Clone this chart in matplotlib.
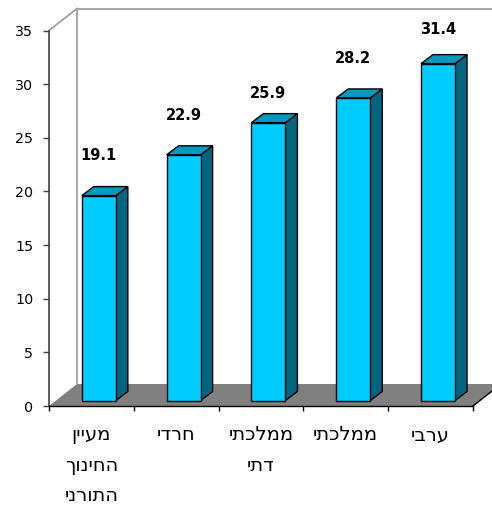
import matplotlib
matplotlib.use('Agg')
import matplotlib.pyplot as plt
import numpy as np
from matplotlib.patches import Polygon

# --- data ---
categories = ['מעיין\nהחינוך\nהתורני', 'חרדי', 'ממלכתי\nדתי', 'ממלכתי', 'ערבי']
values = [19.1, 22.9, 25.9, 28.2, 31.4]
y_ticks = [0, 5, 10, 15, 20, 25, 30, 35]
label_raise = [40, 39, 29, 39, 34]  # px above the bar top, not regular in the original

# --- fake 3d depth, in px ---
W, H = 492, 512
left, right, top, bottom = 49, 473, 30.5, 406
px_x = (right - left) / len(values)
px_y = (bottom - top) / 35
depth_x = 28 / px_x
depth_y = 22 / px_y
bar_w = 34 / px_x
front_x, front_y = 7 / px_x, 5.5 / px_y
side_x, side_y = 12 / px_x, 9 / px_y


def visual(s):
    # matplotlib has no bidi, flip each line so hebrew reads right to left
    return '\n'.join(line[::-1] for line in s.split('\n'))


fig = plt.figure(figsize=(W / 100, H / 100), dpi=100)
ax = fig.add_axes([left / W, 1 - bottom / H, (right - left) / W, (bottom - top) / H])
ax.set_xlim(0, len(values))
ax.set_ylim(0, 35)
ax.patch.set_visible(False)

# walls and floor
wall = '#a0a0a0'
n = len(values)
ax.add_patch(Polygon([(0, 0), (depth_x, depth_y), (n + depth_x, depth_y), (n, 0)],
                     facecolor='#808080', edgecolor='none', clip_on=False, zorder=1))
ax.plot([0, depth_x, depth_x], [35, 35 + depth_y, depth_y], color=wall, lw=1.3,
        clip_on=False, zorder=1)
ax.plot([depth_x, n + depth_x], [35 + depth_y, 35 + depth_y], color=wall, lw=1.3,
        clip_on=False, zorder=1)
ax.plot([n, n + depth_x], [0, depth_y], color='black', lw=1, clip_on=False, zorder=1)

# bars
x = np.arange(n) + 0.5 + front_x + 0.005
ax.bar(x, values, width=bar_w, bottom=front_y, color='#00ccff', edgecolor='black',
       linewidth=1, zorder=4, clip_on=False)
for xi, v, up in zip(x, values, label_raise):
    x0, x1 = xi - bar_w / 2, xi + bar_w / 2
    y0, y1 = front_y, front_y + v
    ax.add_patch(Polygon([(x1, y0), (x1 + side_x, y0 + side_y), (x1 + side_x, y1 + side_y), (x1, y1)],
                         facecolor='#006680', edgecolor='black', lw=1, zorder=3, clip_on=False))
    ax.add_patch(Polygon([(x0, y1), (x0 + side_x, y1 + side_y), (x1 + side_x, y1 + side_y), (x1, y1)],
                         facecolor='#0099bf', edgecolor='black', lw=1, zorder=3, clip_on=False))
    ax.annotate(f'{v:.1f}', (xi, y1), xytext=(0, up * 0.72), textcoords='offset points',
                ha='center', va='center', fontsize=10.5, fontweight='bold', color='black')

# axes
for side in ['top', 'right']:
    ax.spines[side].set_visible(False)
ax.spines['left'].set_color('#404040')
ax.spines['left'].set_linewidth(1.2)
ax.spines['bottom'].set_color('black')
ax.spines['bottom'].set_linewidth(1)
for sp in ax.spines.values():
    sp.set_zorder(2)

ax.set_yticks(y_ticks)
ax.tick_params(axis='y', length=4.3, width=1, color='#404040', labelsize=10.3, pad=7)
ax.set_xticks(np.arange(n + 1))
ax.set_xticklabels([])
ax.tick_params(axis='x', which='major', length=3.6, width=1)
ax.set_xticks(np.arange(n) + 0.5, minor=True)
ax.set_xticklabels([visual(c) for c in categories], minor=True, fontsize=14,
                   linespacing=1.75, va='top')
ax.tick_params(axis='x', which='minor', length=0, pad=14)

fig.savefig('out.png', dpi=100)
